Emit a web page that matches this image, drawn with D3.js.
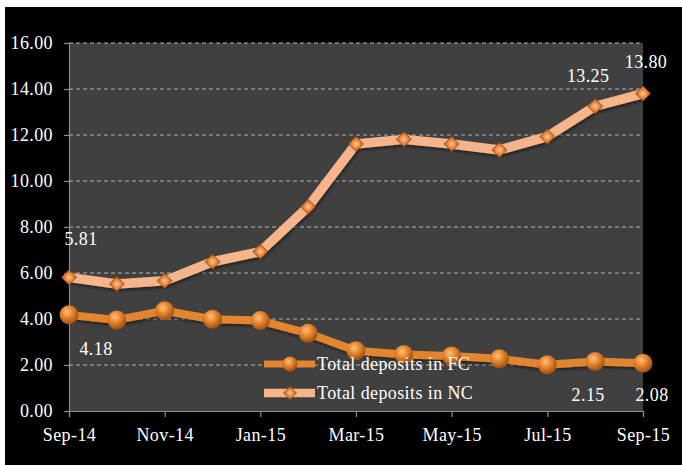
<!DOCTYPE html>
<html>
<head>
<meta charset="utf-8">
<script src="https://cdn.jsdelivr.net/npm/d3@7"></script>
<style>
  html, body { margin: 0; padding: 0; background: #fff; }
  svg { display: block; }
  text { font-family: "Liberation Serif", "Times New Roman", serif; fill: #fff; letter-spacing: 0.4px; }
</style>
</head>
<body>
<div id="chart"></div>
<script>
// Data
const months = ["Sep-14","Oct-14","Nov-14","Dec-14","Jan-15","Feb-15","Mar-15",
                "Apr-15","May-15","Jun-15","Jul-15","Aug-15","Sep-15"];
const depositsFC = [4.18, 3.96, 4.36, 3.99, 3.93, 3.38, 2.62, 2.46, 2.39, 2.27, 2.01, 2.15, 2.08];
const depositsNC = [5.81, 5.52, 5.66, 6.49, 6.93, 8.88, 11.61, 11.81, 11.61, 11.35, 11.93, 13.25, 13.80];
const yTicks = [0, 2, 4, 6, 8, 10, 12, 14, 16];
const xTickLabels = ["Sep-14","Nov-14","Jan-15","Mar-15","May-15","Jul-15","Sep-15"];
const seriesNames = ["Total deposits in FC", "Total deposits in NC"];

const width = 682, height = 465;
const plot = {left: 69, top: 43, right: 643, bottom: 411};
const fontSize = "18px";

const svg = d3.select("#chart").append("svg")
  .attr("width", width).attr("height", height);

// gradients for the markers
const defs = svg.append("defs");
const ball = defs.append("radialGradient").attr("id", "ball")
  .attr("cx", "40%").attr("cy", "35%").attr("r", "65%");
ball.append("stop").attr("offset", "0%").attr("stop-color", "#ffc27a");
ball.append("stop").attr("offset", "45%").attr("stop-color", "#e8872f");
ball.append("stop").attr("offset", "100%").attr("stop-color", "#9c4f10");
const gem = defs.append("radialGradient").attr("id", "gem")
  .attr("cx", "50%").attr("cy", "50%").attr("r", "60%");
gem.append("stop").attr("offset", "0%").attr("stop-color", "#fcc79a");
gem.append("stop").attr("offset", "55%").attr("stop-color", "#e0782a");
gem.append("stop").attr("offset", "100%").attr("stop-color", "#a9520f");
const shadow = defs.append("filter").attr("id", "shadow")
  .attr("x", "-10%").attr("y", "-10%").attr("width", "120%").attr("height", "130%");
shadow.append("feDropShadow").attr("dx", 1).attr("dy", 2).attr("stdDeviation", 1.5)
  .attr("flood-color", "#000").attr("flood-opacity", 0.5);

// background
svg.append("rect").attr("x", 5).attr("y", 7).attr("width", width - 5).attr("height", height - 7)
  .attr("fill", "#000");
svg.append("rect").attr("x", plot.left).attr("y", plot.top)
  .attr("width", plot.right - plot.left).attr("height", plot.bottom - plot.top)
  .attr("fill", "#404040");

const x = d3.scalePoint().domain(months).range([plot.left, plot.right]);
const y = d3.scaleLinear().domain([0, 16]).range([plot.bottom, plot.top]);

// gridlines
svg.append("g").selectAll("line").data(yTicks.filter(d => d > 0)).enter().append("line")
  .attr("x1", plot.left).attr("x2", plot.right)
  .attr("y1", d => y(d)).attr("y2", d => y(d))
  .attr("stroke", "#b5b5b5").attr("stroke-width", 1).attr("stroke-dasharray", "4,3");

// axes
const yAxis = svg.append("g").attr("transform", `translate(${plot.left},0)`)
  .call(d3.axisLeft(y).tickValues(yTicks).tickFormat(d3.format(".2f")).tickSize(5).tickPadding(11));
const xAxis = svg.append("g").attr("transform", `translate(0,${plot.bottom})`)
  .call(d3.axisBottom(x).tickValues(xTickLabels).tickSize(6).tickPadding(9));
for (const ax of [yAxis, xAxis]) {
  ax.attr("font-family", null).attr("font-size", null);
  ax.select(".domain").attr("stroke", "#8c8c8c").attr("stroke-width", 1.2);
  ax.selectAll(".tick line").attr("stroke", "#8c8c8c").attr("stroke-width", 1.2);
  ax.selectAll("text").attr("fill", "#fff").attr("font-size", fontSize);
}
xAxis.selectAll("text").attr("dy", "0.85em");
yAxis.selectAll("text").attr("dy", "0.32em");

const line = d3.line().x((d, i) => x(months[i])).y(d => y(d));

// NC line
svg.append("path").datum(depositsNC).attr("d", line)
  .attr("fill", "none").attr("stroke", "#f6b48a").attr("stroke-width", 9.5)
  .attr("stroke-linejoin", "round").attr("filter", "url(#shadow)");
// FC line
svg.append("path").datum(depositsFC).attr("d", line)
  .attr("fill", "none").attr("stroke", "#e3842f").attr("stroke-width", 8)
  .attr("stroke-linejoin", "round").attr("filter", "url(#shadow)");

const diamond = (cx, cy, r) => `M${cx},${cy - r}L${cx + r},${cy}L${cx},${cy + r}L${cx - r},${cy}Z`;

svg.append("g").selectAll("path").data(depositsNC).enter().append("path")
  .attr("d", (d, i) => diamond(x(months[i]), y(d), 7.5))
  .attr("fill", "url(#gem)").attr("stroke", "#9a4a10").attr("stroke-width", 0.8);

svg.append("g").selectAll("circle").data(depositsFC).enter().append("circle")
  .attr("cx", (d, i) => x(months[i])).attr("cy", d => y(d)).attr("r", 9.5)
  .attr("fill", "url(#ball)");

// data labels
const labels = [
  {v: depositsNC[0], i: 0, dx: 12, dy: -32},
  {v: depositsFC[0], i: 0, dx: 27, dy: 40},
  {v: depositsNC[11], i: 11, dx: -7, dy: -24},
  {v: depositsNC[12], i: 12, dx: 3, dy: -25.5},
  {v: depositsFC[11], i: 11, dx: -7, dy: 39.5},
  {v: depositsFC[12], i: 12, dx: 9, dy: 38}
];
svg.append("g").selectAll("text").data(labels).enter().append("text")
  .attr("x", d => x(months[d.i]) + d.dx).attr("y", d => y(d.v) + d.dy)
  .attr("text-anchor", "middle").attr("font-size", fontSize)
  .text(d => d.v.toFixed(2));

// legend
const legend = svg.append("g").attr("transform", "translate(264,364)");
const legendRows = legend.selectAll("g").data(seriesNames).enter().append("g")
  .attr("transform", (d, i) => `translate(0,${i * 29})`);
legendRows.append("line").attr("x1", 0).attr("x2", 51)
  .attr("stroke", (d, i) => i === 0 ? "#e3842f" : "#f6b48a")
  .attr("stroke-width", (d, i) => i === 0 ? 7 : 8.5);
legendRows.each(function(d, i) {
  const g = d3.select(this);
  if (i === 0) {
    g.append("circle").attr("cx", 26).attr("cy", 0).attr("r", 7.5).attr("fill", "url(#ball)");
  } else {
    g.append("path").attr("d", diamond(26, 0, 6.5))
      .attr("fill", "url(#gem)").attr("stroke", "#9a4a10").attr("stroke-width", 0.8);
  }
});
legendRows.append("text").attr("x", 53).attr("y", 6)
  .attr("font-size", fontSize).text(d => d);
</script>
</body>
</html>
